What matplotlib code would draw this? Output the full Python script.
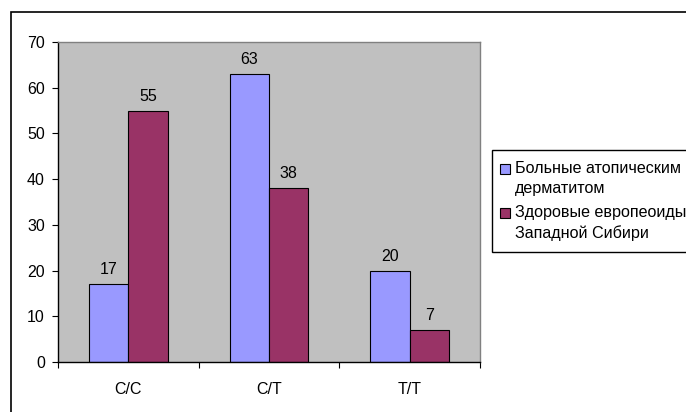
import matplotlib
matplotlib.use("Agg")
import matplotlib.pyplot as plt
from matplotlib.patches import Rectangle
from matplotlib.legend_handler import HandlerPatch
import numpy as np

plt.rcParams['font.family'] = ['Liberation Sans', 'DejaVu Sans']

categories = ["C/C", "C/T", "T/T"]
series_names = ["Больные атопическим\nдерматитом", "Здоровые европеоиды\nЗападной Сибири"]
patients = [17, 63, 20]
healthy = [55, 38, 7]
colors = ["#9999FF", "#993366"]

FS = 11.5
LFS = 11.6
W, H = 686, 412

fig = plt.figure(figsize=(6.86, 4.12), dpi=100)
# outer chart border
fig.patches.append(Rectangle((11/W, -0.5), 2, 0.5 + (H-12)/H, transform=fig.transFigure,
                             fill=False, edgecolor='black', linewidth=1.2))
# legend frame
fig.patches.append(Rectangle((492/W, 1 - 252/H), 1, (252-150)/H, transform=fig.transFigure,
                             fill=True, facecolor='white', edgecolor='black', linewidth=1.0))

ax = fig.add_axes([58/W, 50/H, (480-58)/W, (362-42)/H])
ax.set_facecolor("#C0C0C0")

x = np.arange(len(categories))
w = 0.28
b1 = ax.bar(x - w/2, patients, w, color=colors[0], edgecolor='black', linewidth=0.8)
b2 = ax.bar(x + w/2, healthy, w, color=colors[1], edgecolor='black', linewidth=0.8)

for bars, vals in ((b1, patients), (b2, healthy)):
    for r, v in zip(bars, vals):
        ax.annotate(str(v), (r.get_x() + r.get_width()/2, v), xytext=(0, 5),
                    textcoords='offset points', ha='center', va='bottom', fontsize=FS)

ax.set_xlim(-0.5, 2.5)
ax.set_ylim(0, 70)
ax.set_yticks(range(0, 71, 10))
ax.set_xticks([-0.5, 0.5, 1.5, 2.5])
ax.set_xticklabels([])
ax.set_xticks(x, minor=True)
ax.set_xticklabels(categories, minor=True)
ax.tick_params(axis='x', which='major', direction='out', length=4.5, width=0.8, color='black')
ax.tick_params(axis='x', which='minor', length=0, pad=14.5, labelsize=FS)
ax.tick_params(axis='y', direction='out', length=4.5, width=0.8, pad=5, labelsize=FS)

for s in ('top', 'right'):
    ax.spines[s].set_color('#808080')
    ax.spines[s].set_linewidth(1.0)
for s in ('left', 'bottom'):
    ax.spines[s].set_color('black')
    ax.spines[s].set_linewidth(1.0)


def top_square(legend, orig_handle, xdescent, ydescent, width, height, fontsize):
    return Rectangle((-xdescent, -ydescent + 0.62 * fontsize), width, height)


h1 = b1.patches[0]
h2 = b2.patches[0]
hm = {h1: HandlerPatch(patch_func=top_square), h2: HandlerPatch(patch_func=top_square)}
leg = fig.legend(handles=[h1, h2], labels=series_names, loc='upper left',
                 bbox_to_anchor=(500/W, 1 - 161/H),
                 fontsize=LFS, frameon=False,
                 handlelength=0.6, handleheight=0.6, handletextpad=0.35,
                 borderpad=0, labelspacing=0.55, borderaxespad=0, handler_map=hm)
for t in leg.get_texts():
    t.set_linespacing(1.4)

fig.savefig("out.png", dpi=100)
